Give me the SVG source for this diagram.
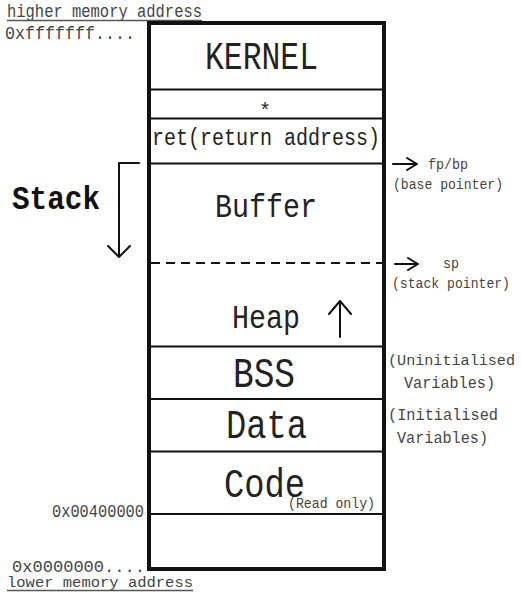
<svg xmlns="http://www.w3.org/2000/svg" width="521" height="599" viewBox="0 0 521 599">
<style>
text{font-family:"Liberation Mono","Courier New",monospace;}
.box{fill:#222;}
.lab{fill:#444;}
.sep{stroke:#111;stroke-width:2;fill:none;}
.arr{stroke:#111;stroke-width:2;fill:none;stroke-linecap:round;stroke-linejoin:round;}
.ul{stroke:#555;stroke-width:1.5;}
</style>
<rect width="521" height="599" fill="#fff"/>
<g id="labels-left">
<text class="lab" x="7" y="16.5" font-size="19" textLength="195" lengthAdjust="spacingAndGlyphs">higher memory address</text>
<line class="ul" x1="7" y1="20.5" x2="202" y2="20.5"/>
<text class="lab" x="5" y="39" font-size="19" textLength="130" lengthAdjust="spacingAndGlyphs">0xfffffff....</text>
<text x="12" y="209" font-size="33" font-weight="bold" fill="#111" textLength="88" lengthAdjust="spacingAndGlyphs">Stack</text>
<text class="lab" x="52" y="517" font-size="17.5" textLength="92" lengthAdjust="spacingAndGlyphs">0x00400000</text>
<text class="lab" x="12" y="571.5" font-size="16" textLength="133" lengthAdjust="spacingAndGlyphs">0x0000000....</text>
<text class="lab" x="7" y="587" font-size="15.5" textLength="186" lengthAdjust="spacingAndGlyphs">lower memory address</text>
<line class="ul" x1="7" y1="590.5" x2="193" y2="590.5"/>
</g>
<g id="memory">
<rect x="149" y="23" width="235" height="546" fill="none" stroke="#111" stroke-width="4"/>
</g>
<g id="kernel">
<text class="box" x="205" y="69" font-size="38" textLength="113" lengthAdjust="spacingAndGlyphs">KERNEL</text>
</g>
<g id="star">
<text class="box" x="265" y="117" font-size="20" text-anchor="middle">*</text>
</g>
<g id="ret">
<text class="box" x="152" y="145" font-size="23" textLength="228" lengthAdjust="spacingAndGlyphs">ret(return address)</text>
</g>
<g id="buffer">
<text class="box" x="215" y="217" font-size="33" textLength="102" lengthAdjust="spacingAndGlyphs">Buffer</text>
</g>
<g id="heap">
<text class="box" x="232" y="328" font-size="34" textLength="68" lengthAdjust="spacingAndGlyphs">Heap</text>
</g>
<g id="bss">
<text class="box" x="233" y="387" font-size="42" textLength="62" lengthAdjust="spacingAndGlyphs">BSS</text>
</g>
<g id="data">
<text class="box" x="226" y="438" font-size="41" textLength="81" lengthAdjust="spacingAndGlyphs">Data</text>
</g>
<g id="code">
<text class="box" x="224" y="497" font-size="41" textLength="81" lengthAdjust="spacingAndGlyphs">Code</text>
<text class="lab" x="288" y="507.5" font-size="14.5" textLength="87" lengthAdjust="spacingAndGlyphs">(Read only)</text>
</g>
<g id="labels-right">
<text class="lab" x="428" y="169" font-size="14.5" textLength="40" lengthAdjust="spacingAndGlyphs">fp/bp</text>
<text class="lab" x="393" y="189" font-size="14" textLength="110" lengthAdjust="spacingAndGlyphs">(base pointer)</text>
<text class="lab" x="443" y="268" font-size="14.5" textLength="16" lengthAdjust="spacingAndGlyphs">sp</text>
<text class="lab" x="392" y="288" font-size="14" textLength="118" lengthAdjust="spacingAndGlyphs">(stack pointer)</text>
<text class="lab" x="388" y="365" font-size="15.5" textLength="127" lengthAdjust="spacingAndGlyphs">(Uninitialised</text>
<text class="lab" x="404" y="388" font-size="16.5" textLength="91" lengthAdjust="spacingAndGlyphs">Variables)</text>
<text class="lab" x="388" y="420" font-size="16.5" textLength="110" lengthAdjust="spacingAndGlyphs">(Initialised</text>
<text class="lab" x="397" y="443" font-size="16.5" textLength="91" lengthAdjust="spacingAndGlyphs">Variables)</text>
</g>
<g id="connectors">
<line class="sep" x1="151" y1="89.5" x2="382" y2="89.5"/>
<line class="sep" x1="151" y1="118.5" x2="382" y2="118.5"/>
<line class="sep" x1="151" y1="163.5" x2="382" y2="163.5"/>
<line class="sep" x1="151" y1="263" x2="382" y2="263" stroke-width="2.5" stroke-dasharray="9 6"/>
<line class="sep" x1="151" y1="346.5" x2="382" y2="346.5"/>
<line class="sep" x1="151" y1="399" x2="382" y2="399"/>
<line class="sep" x1="151" y1="451.5" x2="382" y2="451.5"/>
<line class="sep" x1="151" y1="514" x2="382" y2="514"/>
<path class="arr" d="M139,163 H119 V257 M108,246 L119,257 L130,246"/>
<path class="arr" d="M340,337 V301 M329,314 L340,301 L351,314"/>
<path class="arr" d="M393,164 H417 M407,158 L417,164 L407,170"/>
<path class="arr" d="M395,264 H418 M408,258 L418,264 L408,270"/>
</g>
</svg>
